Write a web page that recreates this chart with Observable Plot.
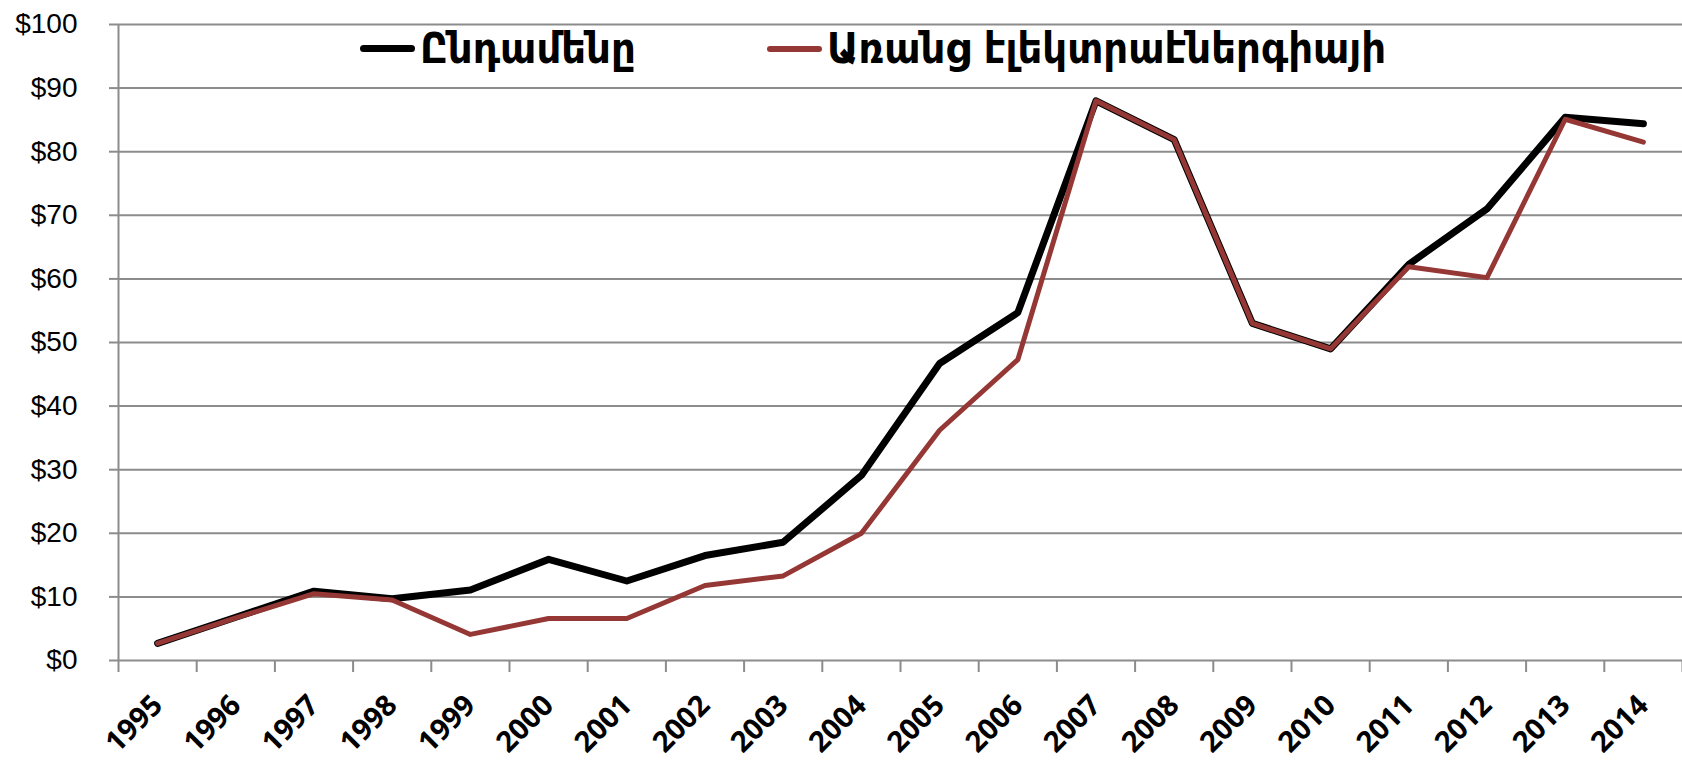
<!DOCTYPE html>
<html>
<head>
<meta charset="utf-8">
<script src="https://cdn.jsdelivr.net/npm/d3@7"></script>
<script src="https://cdn.jsdelivr.net/npm/@observablehq/plot@0.6"></script>
<style>
  html, body { margin: 0; padding: 0; background: #fff; }
  #wrap { position: relative; width: 1682px; height: 762px; }
  .leg { position: absolute; top: 27px; display: flex; align-items: center;
         font-family: "DejaVu Sans Condensed", "DejaVu Sans", sans-serif; font-weight: bold;
         font-size: 43px; color: #000; white-space: nowrap; line-height: 1; }
  .sw { display: inline-block; width: 55px; border-radius: 4px; margin-right: 5px; }
</style>
</head>
<body>
<div id="wrap"></div>
<script>
const years = [1995, 1996, 1997, 1998, 1999, 2000, 2001, 2002, 2003, 2004,
               2005, 2006, 2007, 2008, 2009, 2010, 2011, 2012, 2013, 2014];
const total = [2.7, 6.8, 10.9, 9.7, 11.1, 15.9, 12.5, 16.5, 18.6, 29.1,
               46.7, 54.7, 88.0, 81.9, 53.0, 49.0, 62.3, 71.0, 85.4, 84.4];
const noElectricity = [2.7, 6.7, 10.5, 9.5, 4.1, 6.6, 6.6, 11.8, 13.3, 20.0,
                       36.2, 47.3, 88.0, 81.9, 53.0, 49.0, 61.9, 60.2, 85.1, 81.5];
const seriesNames = ["Ընդամենը", "Առանց էլեկտրաէներգիայի"];
const seriesColors = ["#000000", "#953735"];
const yTicks = [0, 10, 20, 30, 40, 50, 60, 70, 80, 90, 100];

const rowsTotal = years.map((y, i) => ({year: y, value: total[i]}));
const rowsNoEl = years.map((y, i) => ({year: y, value: noElectricity[i]}));
const bounds = years.map(y => y - 0.5).concat([years[years.length - 1] + 0.5]);
const grid = "#8c8c8c";

const chart = Plot.plot({
  width: 1682,
  height: 762,
  marginTop: 24,
  marginBottom: 102,
  marginLeft: 118,
  marginRight: 0,
  style: {fontFamily: "Liberation Sans, Arial, sans-serif", fontSize: "28px", background: "#fff", color: "#000", overflow: "visible"},
  x: {domain: [bounds[0], bounds[bounds.length - 1]], axis: null, label: null},
  y: {domain: [0, 100], axis: null, label: null},
  marks: [
    Plot.gridY(yTicks, {stroke: grid, strokeOpacity: 1, strokeWidth: 2}),
    Plot.axisY(yTicks, {tickSize: 9, tickPadding: 32, stroke: grid, strokeWidth: 2, fill: "#000",
                        tickFormat: d => "$" + d, fontSize: 28, label: null}),
    Plot.ruleX([bounds[0]], {stroke: grid, strokeWidth: 2}),
    Plot.axisX(bounds, {tickSize: 12, stroke: grid, strokeWidth: 2, tickFormat: () => "", label: null}),
    Plot.text(years, {x: d => d, frameAnchor: "bottom", dy: 40, rotate: -45, textAnchor: "end",
                      lineAnchor: "middle", text: d => String(d), fontFamily: "Open Sans",
                      fontWeight: "bold", fontSize: 29, fill: "#000"}),
    Plot.line(rowsTotal, {x: "year", y: "value", stroke: seriesColors[0], strokeWidth: 7,
                          strokeLinejoin: "round", strokeLinecap: "round"}),
    Plot.line(rowsNoEl, {x: "year", y: "value", stroke: seriesColors[1], strokeWidth: 5,
                         strokeLinejoin: "round", strokeLinecap: "round"})
  ]
});

const wrap = document.getElementById("wrap");
wrap.appendChild(chart);

const legendLeft = [360, 767];
const swatchH = [7, 6];
seriesNames.forEach((name, i) => {
  const item = document.createElement("div");
  item.className = "leg";
  item.style.left = legendLeft[i] + "px";
  const sw = document.createElement("span");
  sw.className = "sw";
  sw.style.background = seriesColors[i];
  sw.style.height = swatchH[i] + "px";
  item.appendChild(sw);
  const t = document.createElement("span");
  t.textContent = name;
  item.appendChild(t);
  wrap.appendChild(item);
});
</script>
</body>
</html>
